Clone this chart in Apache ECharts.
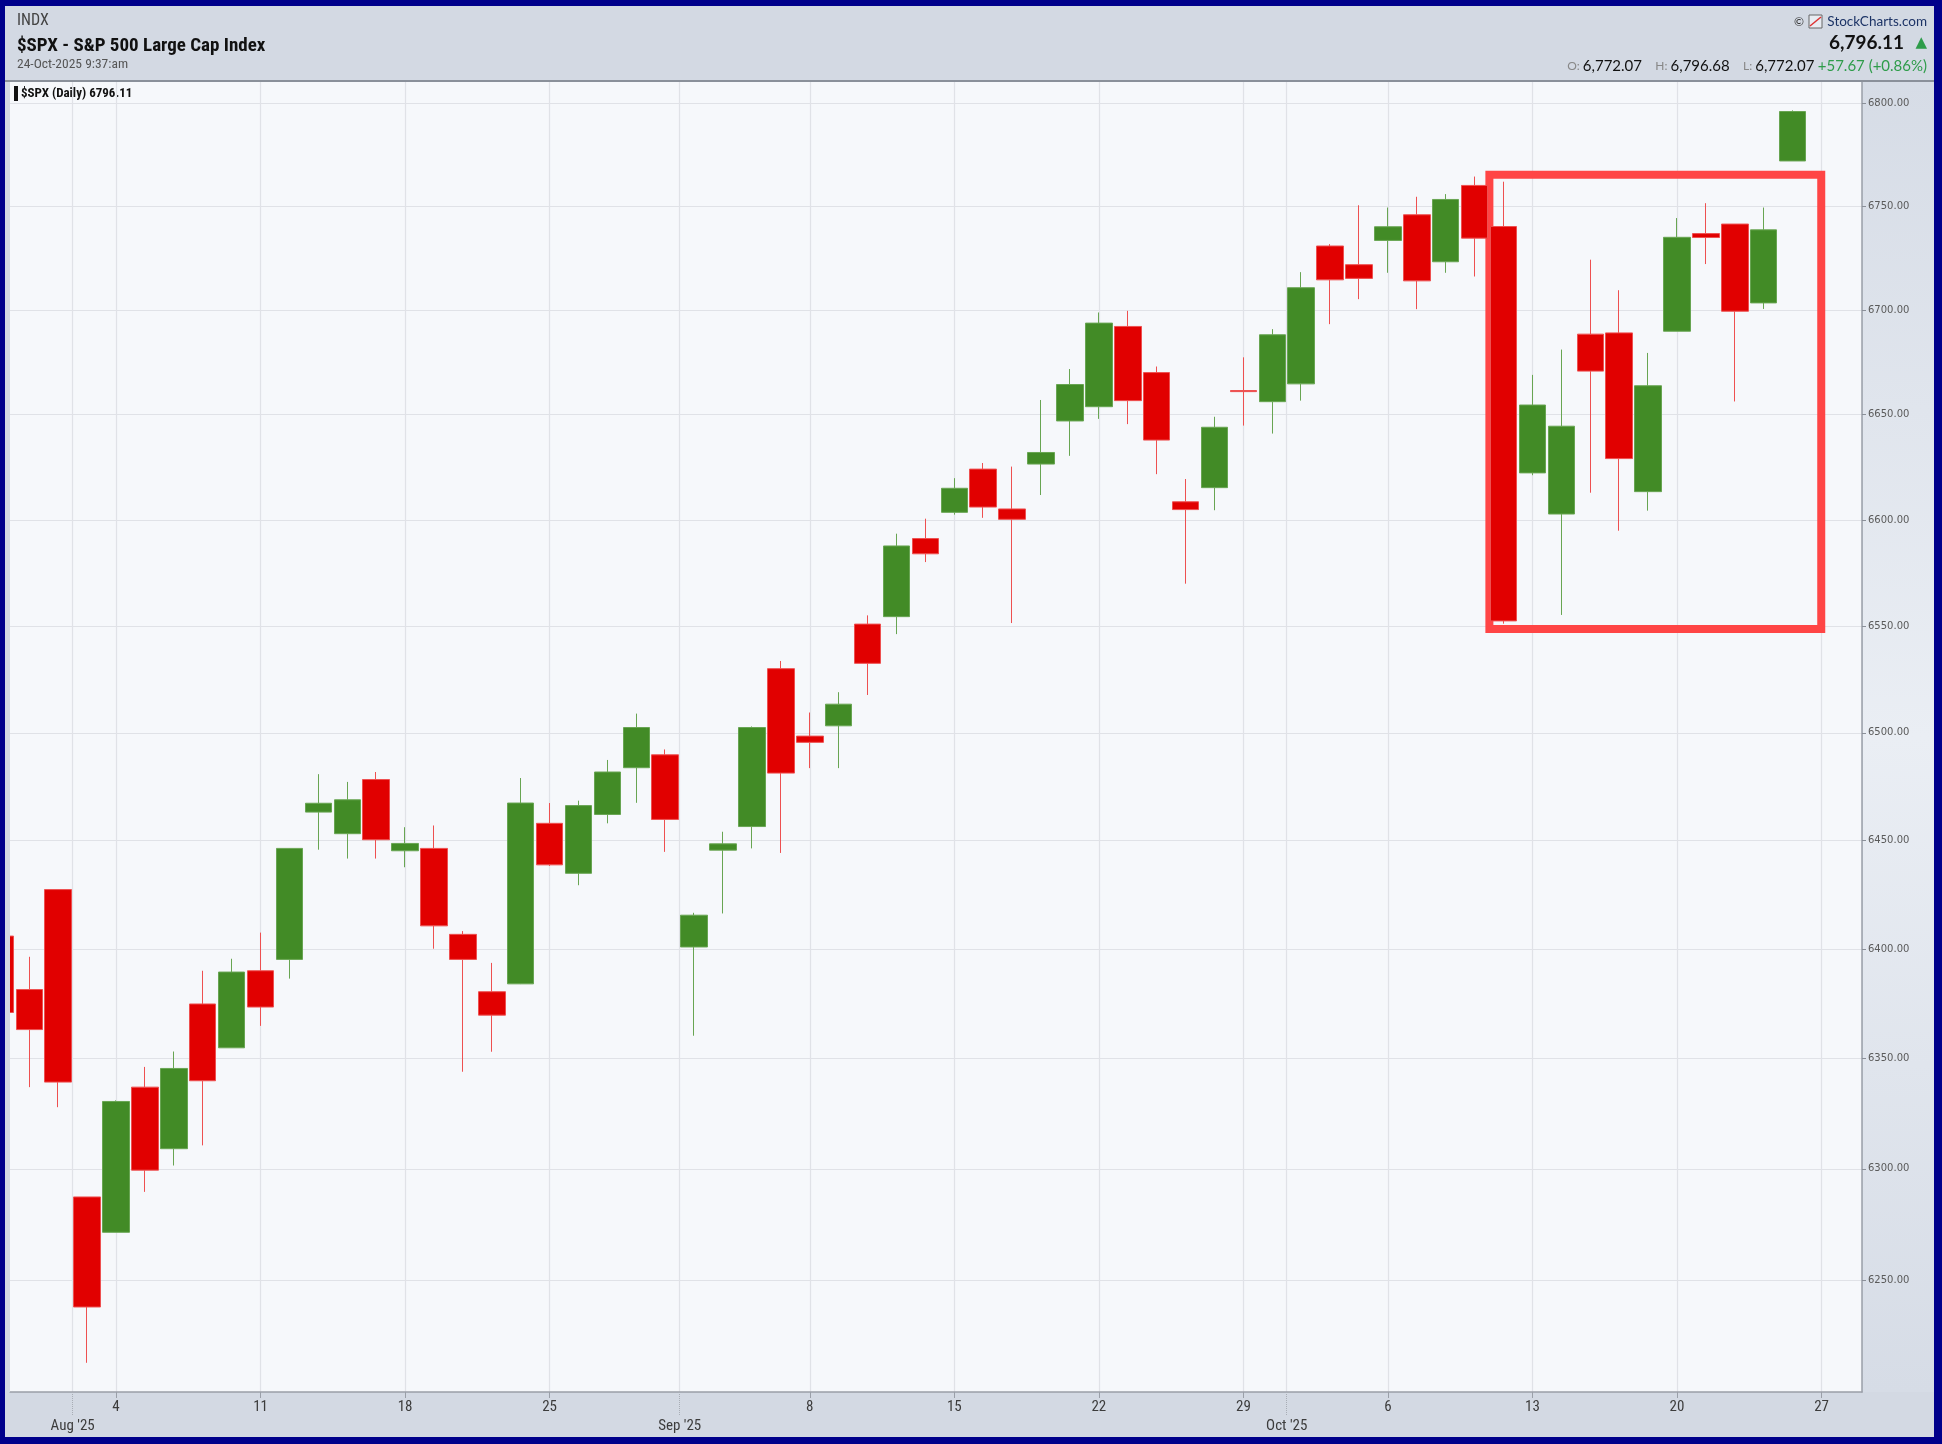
<!DOCTYPE html>
<html><head><meta charset="utf-8">
<script src="https://cdn.jsdelivr.net/npm/echarts@6/dist/echarts.min.js"></script>
<style>html,body{margin:0;padding:0;background:#00008b;overflow:hidden}#c{width:1942px;height:1444px}</style>
</head><body><div id="c"></div><script>
const dates = ['2025-07-29','2025-07-30','2025-07-31','2025-08-01','2025-08-04','2025-08-05','2025-08-06','2025-08-07','2025-08-08',
'2025-08-11','2025-08-12','2025-08-13','2025-08-14','2025-08-15','2025-08-18','2025-08-19','2025-08-20','2025-08-21','2025-08-22',
'2025-08-25','2025-08-26','2025-08-27','2025-08-28','2025-08-29','2025-09-02','2025-09-03','2025-09-04','2025-09-05',
'2025-09-08','2025-09-09','2025-09-10','2025-09-11','2025-09-12','2025-09-15','2025-09-16','2025-09-17','2025-09-18','2025-09-19',
'2025-09-22','2025-09-23','2025-09-24','2025-09-25','2025-09-26','2025-09-29','2025-09-30','2025-10-01','2025-10-02','2025-10-03',
'2025-10-06','2025-10-07','2025-10-08','2025-10-09','2025-10-10','2025-10-13','2025-10-14','2025-10-15','2025-10-16','2025-10-17',
'2025-10-20','2025-10-21','2025-10-22','2025-10-23','2025-10-24'];
const opens  = [6406,6381.5,6427.4,6287.3,6271.4,6337,6309.1,6374.9,6354.9,6390.1,6395.3,6463.2,6453.2,6478.3,6445.3,6446.4,6406.8,6380.5,6384.1,
6458,6434.9,6462.1,6483.8,6489.8,6401,6445.6,6456.5,6530,6498.5,6503.3,6550.9,6554.4,6591.2,6603.6,6624.1,6605.2,6626.5,6647,
6653.8,6692.2,6670.1,6608.6,6615.3,6661.5,6656.2,6664.7,6730.9,6721.9,6733.6,6746,6723.3,6760.2,6740.3,6622.3,6602.8,6688.5,6689.1,6613.4,
6689.9,6736.9,6741.5,6703.5,6772.07];
const closes = [6371,6363.2,6339.3,6237.9,6330.5,6299.4,6345.5,6339.9,6389.5,6373.5,6446.4,6467.3,6468.9,6450.4,6448.7,6410.7,6395.3,6369.8,6467.4,
6438.8,6466.2,6481.8,6502.5,6459.8,6415.6,6448.5,6502.5,6481.3,6495.6,6513.4,6532.5,6587.7,6584,6615,6606.1,6600.3,6632,6664.4,
6693.8,6656.7,6637.9,6604.9,6644,6661,6688.2,6710.8,6714.6,6715.3,6740.2,6714.1,6753.4,6734.7,6552.4,6654.6,6644.5,6670.8,6629.1,6663.8,
6735.1,6735,6699.5,6738.7,6796.11];
const lows   = [6365,6337,6327.9,6213,6271.4,6289.6,6301.5,6310.6,6354.9,6364.9,6386.5,6445.8,6441.7,6441.7,6437.7,6400.2,6344,6353.1,6384,
6438.3,6429.4,6458,6467.5,6444.8,6360.4,6416.4,6446.4,6444.3,6483.6,6483.6,6517.7,6546.2,6580.1,6602.5,6601,6551.4,6611.8,6630.4,
6648,6645.5,6621.7,6569.9,6604.6,6644.8,6641,6656.7,6693.3,6705.3,6718,6700.5,6718,6716.2,6551.1,6621.2,6555.2,6612.9,6594.9,6604.4,
6689.9,6722.2,6656.3,6700.6,6772.07];
const highs  = [6409,6396.5,6427.4,6287.3,6331,6346.2,6353.2,6390.1,6395.6,6407.6,6446.5,6480.8,6477.2,6481.8,6456.2,6457,6408.3,6393.7,6479,
6467.4,6468.5,6487.4,6509,6492.3,6416.7,6454.1,6503,6533.6,6509.5,6519,6555,6593.5,6600.6,6619.8,6627,6625.3,6657,6671.8,
6698.9,6699.7,6673,6619.4,6649,6677.4,6690.9,6718.3,6731.8,6750.6,6749.5,6754.7,6756,6764.5,6762,6669,6681.1,6724.3,6709.6,6679.5,
6744.4,6751.6,6741.5,6749.5,6796.68];

// x axis: index of trading day (Mondays get a day-of-month label)
const weekTickIdx    = [4,9,14,19,28,33,38,43,48,53,58,63];
const weekTickLabels = ['4','11','18','25','8','15','22','29','6','13','20','27'];
const monthIdx       = [2.5,23.5,44.5];
const monthLabels    = ["Aug '25","Sep '25","Oct '25"];
const yTicks = [6250,6300,6350,6400,6450,6500,6550,6600,6650,6700,6750,6800];
// highlighted box (index range / price range)
const boxFrom = [51.51, 6765.4];
const boxTo   = [62.99, 6548.6];

const ohlc = dates.map((d,i)=>[i, opens[i], closes[i], lows[i], highs[i]]);

const narrow = '"Roboto Condensed","Liberation Sans Narrow","Arial Narrow","DejaVu Sans Condensed",sans-serif';
const chart = echarts.init(document.getElementById('c'), null, {renderer:'canvas'});
const XMIN = 0.333, XMAX = 64.4;
chart.setOption({
  backgroundColor:'#00008b',
  animation:false,
  grid:{left:10,right:80,top:81,bottom:52,show:true,backgroundColor:'#f6f8fb',borderWidth:0},
  xAxis:[{
    type:'value', min:XMIN, max:XMAX, position:'bottom',
    axisLine:{show:true,onZero:false,lineStyle:{color:'#9a9fa8',width:1.5}},
    axisTick:{show:true,customValues:weekTickIdx,length:6,lineStyle:{color:'#9a9fa8'}},
    axisLabel:{customValues:weekTickIdx,margin:8,color:'#3c3c3c',fontSize:15,fontFamily:narrow,
      formatter:v=>weekTickLabels[weekTickIdx.indexOf(v)]},
    splitLine:{show:true,lineStyle:{color:'#e0e2e7',width:1.2}}
  },{
    type:'value', min:XMIN, max:XMAX, position:'bottom',
    axisLine:{show:false},
    axisTick:{show:true,customValues:monthIdx,length:24,lineStyle:{color:'#a8adb5',type:'dotted'}},
    axisLabel:{customValues:monthIdx,margin:27,color:'#3c3c3c',fontSize:15,fontFamily:narrow,
      formatter:v=>monthLabels[monthIdx.indexOf(v)]},
    splitLine:{show:true,lineStyle:{color:'#e0e2e7',width:1.2}}
  }],
  yAxis:{
    type:'log', logBase:10, min:6200, max:6811, position:'right',
    axisLine:{show:true,lineStyle:{color:'#9a9fa8',width:1.5}},
    axisTick:{show:true,customValues:yTicks,length:4,lineStyle:{color:'#8a8f98'}},
    axisLabel:{customValues:yTicks,margin:6,color:'#5a5a5a',fontSize:10,fontFamily:'"DejaVu Sans",sans-serif',
      formatter:v=>Number(v).toFixed(2)},
    splitLine:{show:true,lineStyle:{color:'#e0e2e7',width:1.2}}
  },
  series:[{
    type:'candlestick', xAxisIndex:0, yAxisIndex:0,
    encode:{x:0,y:[1,2,3,4]},
    data:ohlc, barWidth:27, clip:true,
    itemStyle:{color:'#428b26',color0:'#e10000',borderColor:'#68a552',borderColor0:'#ee5050',borderWidth:1},
    markArea:{silent:true,
      itemStyle:{color:'rgba(0,0,0,0)',borderColor:'#ff4545',borderWidth:8},
      data:[[{coord:boxFrom},{coord:boxTo}]]}
  }],
  graphic:[
    {type:'rect',z:-10,silent:true,shape:{x:5,y:6,width:1929,height:1431},style:{fill:'#d3d9e3'}},
    {type:'rect',z:-9,silent:true,shape:{x:1863,y:82,width:71,height:1310},
      style:{fill:new echarts.graphic.LinearGradient(0,0,0,1,[{offset:0,color:'#d6dce6'},{offset:0.5,color:'#eaeef4'},{offset:1,color:'#d6dce6'}])}},
    // cover the left margin so the partly visible first candle is cut at the plot edge
    {type:'rect',z:50,silent:true,shape:{x:5,y:82,width:5,height:1310},style:{fill:'#d3d9e3'}},
    {type:'rect',z:50,silent:true,shape:{x:0,y:0,width:5,height:1444},style:{fill:'#00008b'}},
    {type:'line',z:10,silent:true,shape:{x1:5,y1:81,x2:1934,y2:81},style:{stroke:'#8a909a',lineWidth:2}},
    {type:'text',x:17,y:21,style:{text:'INDX',fontSize:16,fontFamily:narrow,fill:'#444',verticalAlign:'middle'}},
    {type:'text',x:17,y:46,style:{text:'$SPX - S&P 500 Large Cap Index',fontSize:19,fontWeight:'bold',fontFamily:narrow,fill:'#111',verticalAlign:'middle'}},
    {type:'text',x:17,y:65,style:{text:'24-Oct-2025 9:37:am',fontSize:13.5,fontFamily:narrow,fill:'#555',verticalAlign:'middle'}},
    {type:'text',x:1927,y:22,style:{text:'StockCharts.com',fontSize:13.5,fontFamily:'Lato,sans-serif',fill:'#1d3466',align:'right',verticalAlign:'middle'}},
    {type:'rect',shape:{x:1809,y:15,width:13,height:13},style:{fill:'#e8ecf2',stroke:'#666',lineWidth:1}},
    {type:'line',shape:{x1:1810,y1:26,x2:1821,y2:17},style:{stroke:'#d33',lineWidth:1.5}},
    {type:'text',x:1804,y:22,style:{text:'©',fontSize:12,fontFamily:'Lato,sans-serif',fill:'#333',align:'right',verticalAlign:'middle'}},
    {type:'text',x:1904,y:43,style:{text:'6,796.11',fontSize:19,fontWeight:'bold',fontFamily:'Lato,sans-serif',fill:'#111',align:'right',verticalAlign:'middle'}},
    {type:'text',x:1927,y:43,style:{text:'▲',fontSize:15,fontFamily:'"DejaVu Sans",sans-serif',fill:'#2e9c4a',align:'right',verticalAlign:'middle'}},
    {type:'text',x:1927,y:66,style:{text:'{g|O: }{v|6,772.07}    {g|H: }{v|6,796.68}    {g|L: }{v|6,772.07} {p|+57.67 (+0.86%)}',
      align:'right',verticalAlign:'middle',
      rich:{g:{fontSize:12,fontFamily:'Lato,sans-serif',fill:'#888'},v:{fontSize:15,fontFamily:'Lato,sans-serif',fill:'#111'},p:{fontSize:15,fontFamily:'Lato,sans-serif',fill:'#2e9c4a'}}}},
    {type:'rect',shape:{x:14,y:86,width:4,height:15},style:{fill:'#111'}},
    {type:'text',x:21,y:93.5,style:{text:'$SPX (Daily) 6796.11',fontSize:13,fontWeight:'bold',fontFamily:narrow,fill:'#111',verticalAlign:'middle'}}
  ]
});
</script></body></html>
